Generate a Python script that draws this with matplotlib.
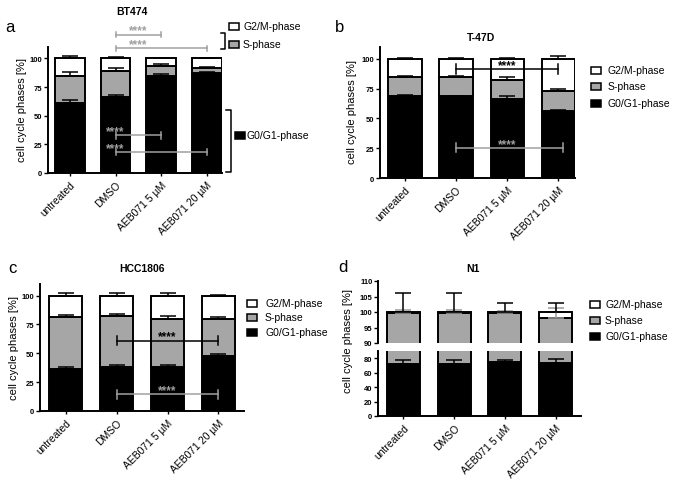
import numpy as np
import matplotlib
matplotlib.use("Agg")
import matplotlib.pyplot as plt
from matplotlib.patches import Rectangle

plt.rcParams['font.family'] = ['Liberation Sans', 'DejaVu Sans']

conditions = ['untreated', 'DMSO', 'AEB071 5 µM', 'AEB071 20 µM']
phases = ['G2/M-phase', 'S-phase', 'G0/G1-phase']

# BT474
a_g0 = [61.5, 66.5, 84.5, 87.0]
a_s = [23.5, 22.5, 9.0, 4.3]
a_g2m = [15.0, 11.0, 6.5, 8.7]
a_g0_err = [2.5, 2.0, 1.8, 1.0]
a_s_err = [3.0, 2.3, 1.8, 0.9]
a_g2m_err = [2.3, 1.5, 0.6, 0.6]

# T-47D
b_g0 = [69.0, 68.5, 66.5, 56.5]
b_s = [15.8, 16.0, 16.0, 16.5]
b_g2m = [15.2, 15.5, 17.5, 27.0]
b_g0_err = [0.6, 0.5, 2.0, 1.0]
b_s_err = [1.0, 1.0, 2.5, 2.0]
b_g2m_err = [0.8, 0.5, 0.8, 2.5]

# HCC1806
c_g0 = [36.8, 37.7, 38.3, 47.5]
c_s = [44.6, 44.6, 41.7, 32.2]
c_g2m = [18.6, 17.7, 20.0, 20.3]
c_g0_err = [1.7, 2.0, 1.7, 2.1]
c_s_err = [1.5, 1.5, 2.0, 2.0]
c_g2m_err = [2.4, 2.4, 2.3, 0.9]

# N1
d_g0 = [72.0, 71.6, 74.4, 74.0]
d_s = [27.8, 28.1, 25.4, 24.2]
d_g2m = [0.2, 0.3, 0.2, 1.8]
d_g0_err = [6.0, 6.1, 2.8, 5.0]
d_s_err = [0.7, 0.8, 0.5, 3.1]
d_g2m_err = [6.2, 6.1, 2.8, 2.8]

GRAY = '#a6a6a6'
LGRAY = '#a0a0a0'
W, H = 676, 489
LW = 1.4

fig = plt.figure(figsize=(W / 100, H / 100), dpi=100)


def px_axes(x0, ytop, x1, ybot):
    return fig.add_axes([x0 / W, 1 - ybot / H, (x1 - x0) / W, (ybot - ytop) / H])


def ftext(x, y, s, **kw):
    fig.text(x / W, 1 - y / H, s, **kw)


def style(ax, xaxis=True):
    for sp in ['top', 'right']:
        ax.spines[sp].set_visible(False)
    ax.spines['left'].set_linewidth(LW)
    ax.spines['bottom'].set_linewidth(LW)
    ax.tick_params(axis='y', length=3, width=1, labelsize=5.5, pad=1)
    for lab in ax.get_yticklabels():
        lab.set_fontweight('bold')
    if xaxis:
        ax.tick_params(axis='x', length=2.5, width=1, labelsize=7.5, pad=2)
        ax.set_xticks(range(len(conditions)))
        ax.set_xticklabels(conditions, rotation=45, ha='right', rotation_mode='anchor')
    else:
        ax.spines['bottom'].set_visible(False)
        ax.set_xticks([])
    ax.set_xlim(-0.5, 3.5)


def stacked(ax, g0, s, g2m, g0e, se, g2me, s_err_color='black'):
    x = np.arange(len(g0))
    g0 = np.array(g0)
    s = np.array(s)
    g2m = np.array(g2m)
    kw = dict(width=0.65, edgecolor='black', linewidth=LW, zorder=2)
    ax.bar(x, g0, color='black', **kw)
    ax.bar(x, s, bottom=g0, color=GRAY, **kw)
    ax.bar(x, g2m, bottom=g0 + s, color='white', **kw)
    ekw = dict(fmt='none', capsize=6, elinewidth=1.1, capthick=1.1, zorder=3)
    ax.errorbar(x, g0, yerr=[np.zeros(len(x)), g0e], ecolor='black', **ekw)
    ax.errorbar(x, g0 + s, yerr=[np.zeros(len(x)), se], ecolor=s_err_color, **ekw)
    ax.errorbar(x, g0 + s + g2m, yerr=[np.zeros(len(x)), g2me], ecolor='black', **ekw)


def sig(ax, x1, x2, y, cap, color, sx, sy):
    kw = dict(color=color, lw=1.1, clip_on=False, zorder=4)
    ax.plot([x1, x2], [y, y], **kw)
    ax.plot([x1, x1], [y - cap, y + cap], **kw)
    ax.plot([x2, x2], [y - cap, y + cap], **kw)
    ax.text(sx, sy, '****', color=color, fontsize=8.5, ha='center', va='center',
            fontweight='bold', clip_on=False, zorder=4)


def legend_box(xc, yc, color):
    fig.add_artist(Rectangle(((xc - 5) / W, 1 - (yc + 3.5) / H), 10 / W, 7 / H,
                             transform=fig.transFigure, facecolor=color,
                             edgecolor='black', linewidth=1.1))


def legend(xc, ys, tx):
    for yy, col, lab in zip(ys, ['white', GRAY, 'black'], phases):
        legend_box(xc, yy, col)
        ftext(tx, yy, lab, fontsize=7.5, va='center')


# ---- panel a ----
ax = px_axes(48, 48, 222, 174)
stacked(ax, a_g0, a_s, a_g2m, a_g0_err, a_s_err, a_g2m_err)
ax.set_ylim(0, 110)
ax.set_yticks([0, 25, 50, 75, 100])
style(ax)
ax.set_xlim(-0.48, 3.33)
sig(ax, 1, 2, 120.9, 2.5, LGRAY, 1.5, 124.5)
sig(ax, 1, 3, 108.7, 2.5, LGRAY, 1.5, 112.5)
sig(ax, 1, 2, 32.8, 3.0, LGRAY, 1.0, 36.5)
sig(ax, 1, 3, 18.3, 3.0, LGRAY, 1.0, 22.0)
ftext(22, 110, 'cell cycle phases [%]', fontsize=8, rotation=90, ha='center', va='center')
ftext(132, 12, 'BT474', fontsize=7.5, fontweight='bold', ha='center', va='center')
ftext(10, 27, 'a', fontsize=12, ha='center', va='center')
legend_box(234, 27, 'white')
ftext(243, 27, phases[0], fontsize=7.5, va='center')
legend_box(234, 45, GRAY)
ftext(243, 45, phases[1], fontsize=7.5, va='center')
legend_box(240, 136, 'black')
ftext(247, 136, phases[2], fontsize=7.5, va='center')
fig.add_artist(plt.Line2D(np.array([221, 225, 225, 221]) / W, 1 - np.array([34, 34, 50, 50]) / H,
                          transform=fig.transFigure, color='black', lw=1.1))
fig.add_artist(plt.Line2D(np.array([226, 231, 231, 226]) / W, 1 - np.array([111, 111, 173, 173]) / H,
                          transform=fig.transFigure, color='black', lw=1.1))

# ---- panel b ----
ax = px_axes(380, 48, 575, 179)
stacked(ax, b_g0, b_s, b_g2m, b_g0_err, b_s_err, b_g2m_err)
ax.set_ylim(0, 110)
ax.set_yticks([0, 25, 50, 75, 100])
style(ax)
ax.set_xlim(-0.49, 3.33)
sig(ax, 1, 3, 91.6, 4.0, 'black', 2.0, 95.0)
sig(ax, 1, 3.1, 25.6, 4.0, LGRAY, 2.0, 28.8)
ftext(352, 112, 'cell cycle phases [%]', fontsize=8, rotation=90, ha='center', va='center')
ftext(481, 38, 'T-47D', fontsize=7.5, fontweight='bold', ha='center', va='center')
ftext(340, 27, 'b', fontsize=12, ha='center', va='center')
legend(596, [71, 87, 104], 608)

# ---- panel c ----
ax = px_axes(40, 285, 244, 412)
stacked(ax, c_g0, c_s, c_g2m, c_g0_err, c_s_err, c_g2m_err)
ax.set_ylim(0, 110)
ax.set_yticks([0, 25, 50, 75, 100])
style(ax)
sig(ax, 1, 3, 60.9, 4.0, 'black', 2.0, 64.5)
sig(ax, 1, 3, 14.5, 4.0, LGRAY, 2.0, 18.0)
ftext(14, 348, 'cell cycle phases [%]', fontsize=8, rotation=90, ha='center', va='center')
ftext(142, 269, 'HCC1806', fontsize=7.5, fontweight='bold', ha='center', va='center')
ftext(12, 269, 'c', fontsize=12, ha='center', va='center')
legend(252, [304, 318, 333], 265)

# ---- panel d (broken axis) ----
ax_hi = px_axes(378, 282, 581, 344)
stacked(ax_hi, d_g0, d_s, d_g2m, d_g0_err, d_s_err, d_g2m_err, s_err_color='#9a9a9a')
ax_hi.set_ylim(90, 110)
ax_hi.set_yticks([90, 95, 100, 105, 110])
style(ax_hi, xaxis=False)

ax_lo = px_axes(378, 352, 581, 417)
stacked(ax_lo, d_g0, d_s, d_g2m, d_g0_err, d_s_err, d_g2m_err)
ax_lo.set_ylim(0, 90)
ax_lo.set_yticks([0, 20, 40, 60, 80])
style(ax_lo)
ftext(348, 341, 'cell cycle phases [%]', fontsize=8, rotation=90, ha='center', va='center')
ftext(473, 269, 'N1', fontsize=7.5, fontweight='bold', ha='center', va='center')
ftext(343, 268, 'd', fontsize=12, ha='center', va='center')
legend(595, [305, 321, 337], 605)

fig.savefig('out.png', dpi=100)
